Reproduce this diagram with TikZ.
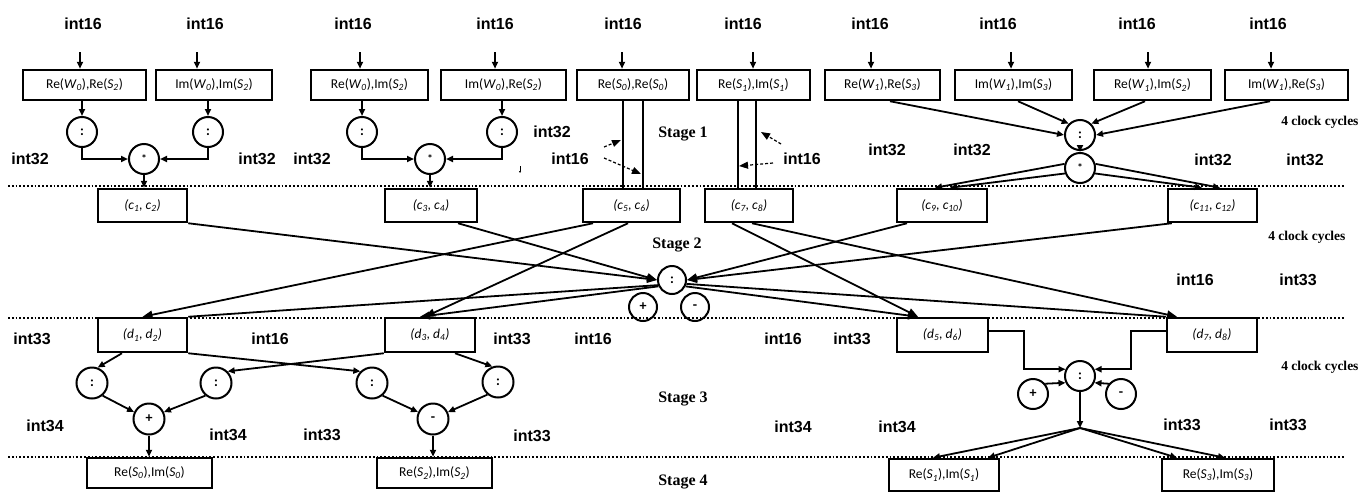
\documentclass[tikz,border=0pt]{standalone}
\usepackage{fontspec}
\setmainfont{Carlito}
\newfontfamily\lblfont{Liberation Sans}
\newfontfamily\stgfont{Liberation Serif}
\usetikzlibrary{arrows.meta,calc}
\newcommand{\iv}[2]{\textit{#1}\textsubscript{\textit{#2}}}
\begin{document}
\begin{tikzpicture}[x=1pt,y=-1pt,
  box/.style={draw,line width=2.5pt,inner sep=0pt,font=\fontsize{13.5}{15}\selectfont},
  opc/.style={draw,circle,line width=2pt,minimum size=30pt,inner sep=0pt,font=\fontsize{14}{15}\selectfont\bfseries},
  lbl/.style={font=\lblfont\bfseries\fontsize{16}{18}\selectfont},
  stg/.style={font=\stgfont\bfseries\fontsize{16}{18}\selectfont},
  clk/.style={font=\stgfont\bfseries\fontsize{13.5}{15}\selectfont,anchor=east},
  con/.style={line width=1.8pt,-{Triangle[length=7pt,width=6pt]}},
  bcon/.style={line width=1.8pt,-{Triangle[length=10pt,width=8pt]}},
  pl/.style={line width=1.8pt},
  dl/.style={line width=1.2pt,densely dashed,-{Triangle[length=9pt,width=7pt]}},
  sep/.style={line width=1.8pt,dotted},
]
\useasboundingbox (0,0) rectangle (1362,493);

% separators
\coordinate (sl1) at (8,186);  \coordinate (sr1) at (1345,186);
\coordinate (sl2) at (8,318);  \coordinate (sr2) at (1345,318);
\coordinate (sl3) at (8,457);  \coordinate (sr3) at (1345,457);
\draw[sep] (sl1) -- (sr1);
\draw[sep] (sl2) -- (sr2);
\draw[sep] (sl3) -- (sr3);

% top boxes
\node[box,minimum width=123pt,minimum height=30pt] (b1) at (84.5,85) {Re(\iv{W}{0}),Re(\iv{S}{2})};
\node[box,minimum width=116pt,minimum height=30pt] (b2) at (214,85) {Im(\iv{W}{0}),Im(\iv{S}{2})};
\node[box,minimum width=117pt,minimum height=30pt] (b3) at (369.5,85) {Re(\iv{W}{0}),Im(\iv{S}{2})};
\node[box,minimum width=125pt,minimum height=30pt] (b4) at (503.5,85) {Im(\iv{W}{0}),Re(\iv{S}{2})};
\node[box,minimum width=112pt,minimum height=30pt] (b5) at (633,85) {Re(\iv{S}{0}),Re(\iv{S}{0})};
\node[box,minimum width=113pt,minimum height=30pt] (b6) at (753.5,85) {Re(\iv{S}{1}),Im(\iv{S}{1})};
\node[box,minimum width=115pt,minimum height=30pt] (b7) at (882.5,85) {Re(\iv{W}{1}),Re(\iv{S}{3})};
\node[box,minimum width=117pt,minimum height=30pt] (b8) at (1013.5,85) {Im(\iv{W}{1}),Im(\iv{S}{3})};
\node[box,minimum width=117pt,minimum height=30pt] (b9) at (1152.5,85) {Re(\iv{W}{1}),Im(\iv{S}{2})};
\node[box,minimum width=123pt,minimum height=30pt] (b10) at (1286.5,85) {Im(\iv{W}{1}),Re(\iv{S}{3})};

% top int16 labels and input arrows
\foreach \x/\n in {83/1,205/2,353/3,495/4,623/5,743/6,870/7,998/8,1137/9,1268/10}
  \node[lbl] (ti\n) at (\x,24) {int16};
\foreach \x/\n in {80/1,197/2,360/3,495/4,622/5,753/6,871/7,1011/8,1148/9,1271/10}{
  \coordinate (t\n) at (\x,52);
  \draw[con] (t\n) -- (t\n |- b\n.north);
}

% stage 1 left
\node[opc] (o1) at (82,132) {:};
\node[opc] (o2) at (208,132) {:};
\node[opc] (o3) at (362,132) {:};
\node[opc] (o4) at (502,132) {:};
\node[opc,font=\fontsize{11}{12}\selectfont\bfseries] (m1) at (144,159) {*};
\node[opc,font=\fontsize{11}{12}\selectfont\bfseries] (m2) at (430,159) {*};
\draw[con] (o1 |- b1.south) -- (o1.north);
\draw[con] (o2 |- b2.south) -- (o2.north);
\draw[con] (o3 |- b3.south) -- (o3.north);
\draw[con] (o4 |- b4.south) -- (o4.north);
\draw[con] (o1.south) |- (m1.west);
\draw[con] (o2.south) |- (m1.east);
\draw[con] (o3.south) |- (m2.west);
\draw[con] (o4.south) |- (m2.east);

% c boxes
\node[box,minimum width=89pt,minimum height=33pt] (c1) at (142.5,205.5) {\textit{(c\textsubscript{1}, c\textsubscript{2})}};
\node[box,minimum width=92pt,minimum height=33pt] (c3) at (431,205.5) {\textit{(c\textsubscript{3}, c\textsubscript{4})}};
\node[box,minimum width=97pt,minimum height=33pt] (c5) at (631.5,205.5) {\textit{(c\textsubscript{5}, c\textsubscript{6})}};
\node[box,minimum width=88pt,minimum height=33pt] (c7) at (749,205.5) {\textit{(c\textsubscript{7}, c\textsubscript{8})}};
\node[box,minimum width=90pt,minimum height=33pt] (c9) at (942,205.5) {\textit{(c\textsubscript{9}, c\textsubscript{10})}};
\node[box,minimum width=89pt,minimum height=33pt] (c11) at (1212.5,205.5) {\textit{(c\textsubscript{11}, c\textsubscript{12})}};

\draw[con] (m1.south) -- (m1.south |- c1.north);
\draw[con] (m2.south) -- (m2.south |- c3.north);

% stage 1 middle: pass-through lines
\draw[line width=2.4pt] ($(b5.south)+(-10,0)$) -- ($(b5.south |- c5.north)+(-10,0)$);
\draw[line width=1.6pt] ($(b5.south)+(10,0)$) -- ($(b5.south |- c5.north)+(10,0)$);
\draw[line width=2.4pt] ($(b6.south)+(-15.5,0)$) -- ($(b6.south |- c7.north)+(-15.5,0)$);
\draw[line width=2.4pt] ($(b6.south)+(2.5,0)$) -- ($(b6.south |- c7.north)+(2.5,0)$);
\node[stg] (st1) at (683,134) {Stage 1};
\node[lbl] (l32m) at (552,132) {int32};
\node[lbl] (l16a) at (570,159) {int16};
\node[lbl] (l16b) at (802,159) {int16};
\coordinate (da1s) at (604,147); \coordinate (da1e) at (621,140);
\coordinate (da2s) at (604,158); \coordinate (da2e) at (641,174);
\coordinate (da3s) at (773,163); \coordinate (da3e) at (739,166);
\coordinate (da4s) at (781,144); \coordinate (da4e) at (761,132);
\draw[dl] (da1s) -- (da1e);
\draw[dl] (da2s) -- (da2e);
\draw[dl] (da3s) -- (da3e);
\draw[dl] (da4s) -- (da4e);
\coordinate (tk1) at (520,166); \coordinate (tk2) at (520,173);
\draw[line width=0.6pt,-{Triangle[length=2pt,width=2pt]}] (tk1) -- (tk2);

% stage 1 right
\node[opc] (o5) at (1080,135) {:};
\node[opc,font=\fontsize{11}{12}\selectfont\bfseries] (m3) at (1080,168) {*};
\draw[con] ($(b7.south)+(7.5,0)$) -- (o5.west);
\draw[con] ($(b8.south)+(4.5,0)$) -- (o5.north west);
\draw[con] ($(b9.south)+(-7.5,0)$) -- (o5.north east);
\draw[con] ($(b10.south)+(-16.5,0)$) -- (o5.east);
\draw[con] (o5.south) -- (m3.north);
\draw[con] (m3.165) -- ($(c9.north)+(-7,0)$);
\draw[con] (m3.200) -- ($(c9.north)+(8,0)$);
\draw[con] (m3.15) -- ($(c11.north)+(7.5,0)$);
\draw[con] (m3.-20) -- ($(c11.north)+(-10.5,0)$);

% int32 labels
\foreach \x/\y/\n in {30/159/1,257/159/2,312/159/3,887/150/4,972/150/5,1213/160/6,1305/160/7}
  \node[lbl] (i32\n) at (\x,\y) {int32};
\node[clk] (ck1) at (1362,122) {4 clock cycles};

% stage 2
\node[opc,minimum size=28pt] (o6) at (672,280) {:};
\node[opc,minimum size=28pt] (p6) at (643,307) {+};
\node[opc,minimum size=28pt] (n6) at (695,307) {-};
\node[stg] (st2) at (677,245) {Stage 2};
\node[clk] (ck2) at (1349,237) {4 clock cycles};
\node[lbl] (s2a) at (1195,280) {int16};
\node[lbl] (s2b) at (1298,280) {int33};

% d boxes
\node[box,minimum width=89pt,minimum height=34pt] (d1) at (142.5,335) {\textit{(d\textsubscript{1}, d\textsubscript{2})}};
\node[box,minimum width=90pt,minimum height=34pt] (d3) at (430,335) {\textit{(d\textsubscript{3}, d\textsubscript{4})}};
\node[box,minimum width=91pt,minimum height=34pt] (d5) at (942.5,335) {\textit{(d\textsubscript{5}, d\textsubscript{6})}};
\node[box,minimum width=90pt,minimum height=34pt] (d7) at (1212,335) {\textit{(d\textsubscript{7}, d\textsubscript{8})}};

\draw[bcon] (c1.south east) -- (o6.west);
\draw[bcon] ($(c3.south)+(27,0)$) -- (o6.west);
\draw[bcon] ($(c5.south)+(-38.5,0)$) -- (d1.north);
\draw[bcon] ($(c5.south)+(-3.5,0)$) -- ($(d3.north)+(-5,0)$);
\draw[pl] (o6.200) -- (d1.north east);
\draw[bcon] (o6.205) -- ($(d3.north)+(-10,0)$);
\draw[bcon] ($(c7.south)+(-17,0)$) -- ($(d5.north)+(-24.5,0)$);
\draw[bcon] ($(c7.south)+(3,0)$) -- ($(d7.north)+(-35,0)$);
\draw[bcon] ($(c9.south)+(-35,0)$) -- (o6.east);
\draw[bcon] ($(c11.south west)+(5,0)$) -- (o6.east);
\draw[bcon] (o6.-25) -- ($(d5.north)+(-24.5,0)$);
\draw[pl] (o6.-15) -- (d7.north west);

% stage 3 labels
\foreach \x/\t/\n in {32/int33/1,270/int16/2,512/int33/3,593/int16/4,783/int16/5,852/int33/6}
  \node[lbl] (r3\n) at (\x,339) {\t};
\foreach \x/\y/\t/\n in {45/426/int34/1,228/435/int34/2,322/435/int33/3,532/436/int33/4,793/427/int34/5,897/427/int34/6,1182/425/int33/7,1288/425/int33/8}
  \node[lbl] (q3l\n) at (\x,\y) {\t};
\node[stg] (st3) at (683,399) {Stage 3};
\node[stg] (st4) at (683,482) {Stage 4};
\node[clk] (ck3) at (1362,367) {4 clock cycles};

% stage 3 left
\node[opc,minimum size=31pt] (q1) at (92,383) {:};
\node[opc,minimum size=31pt] (q2) at (216,383) {:};
\node[opc,minimum size=31pt] (q3) at (372,383) {:};
\node[opc,minimum size=31pt] (q4) at (498,382) {:};
\node[opc,minimum size=31pt] (pp) at (149,419) {+};
\node[opc,minimum size=31pt] (mm) at (433,419) {-};
\draw[con] ($(d1.south)+(-20.5,0)$) -- (q1.70);
\draw[con] (d1.south east) -- (q3.135);
\draw[con] (d3.south west) -- (q2.45);
\draw[con] ($(d3.south)+(25,0)$) -- (q4.110);
\draw[con] (q1.-50) -- (pp.155);
\draw[con] (q2.-130) -- (pp.25);
\draw[con] (q3.-50) -- (mm.155);
\draw[con] (q4.-130) -- (mm.25);

% bottom boxes
\node[box,minimum width=125pt,minimum height=30pt] (s0) at (149.5,473) {Re(\iv{S}{0}),Im(\iv{S}{0})};
\node[box,minimum width=115pt,minimum height=30pt] (s2) at (434.5,473) {Re(\iv{S}{2}),Im(\iv{S}{2})};
\node[box,minimum width=110pt,minimum height=32pt] (s1) at (944,475) {Re(\iv{S}{1}),Im(\iv{S}{1})};
\node[box,minimum width=112pt,minimum height=32pt] (s3) at (1218,475) {Re(\iv{S}{3}),Im(\iv{S}{3})};
\draw[con] (pp.south) -- (pp.south |- s0.north);
\draw[con] (mm.south) -- (mm.south |- s2.north);

% stage 3 right
\node[opc] (o7) at (1080,376) {:};
\node[opc] (p7) at (1033,394) {+};
\node[opc] (m7) at (1121,394) {-};
\draw[con] ($(d5.east)+(0,-4)$) -- ++(35,0) |- (o7.155);
\draw[con] ($(d7.west)+(0,-4)$) -- ++(-35,0) |- (o7.25);
\draw[con] (p7.40) -- (o7.205);
\draw[con] (m7.140) -- (o7.-25);
\coordinate (jn) at (1080,428);
\draw[con] (o7.south) -- (jn);
\draw[con] (jn) -- ($(s1.north)+(-11,0)$);
\draw[con] (jn) -- ($(s1.north)+(44,0)$);
\draw[con] (jn) -- ($(s3.north)+(-41,0)$);
\draw[con] (jn) -- ($(s3.north)+(7,0)$);
\end{tikzpicture}
\end{document}
